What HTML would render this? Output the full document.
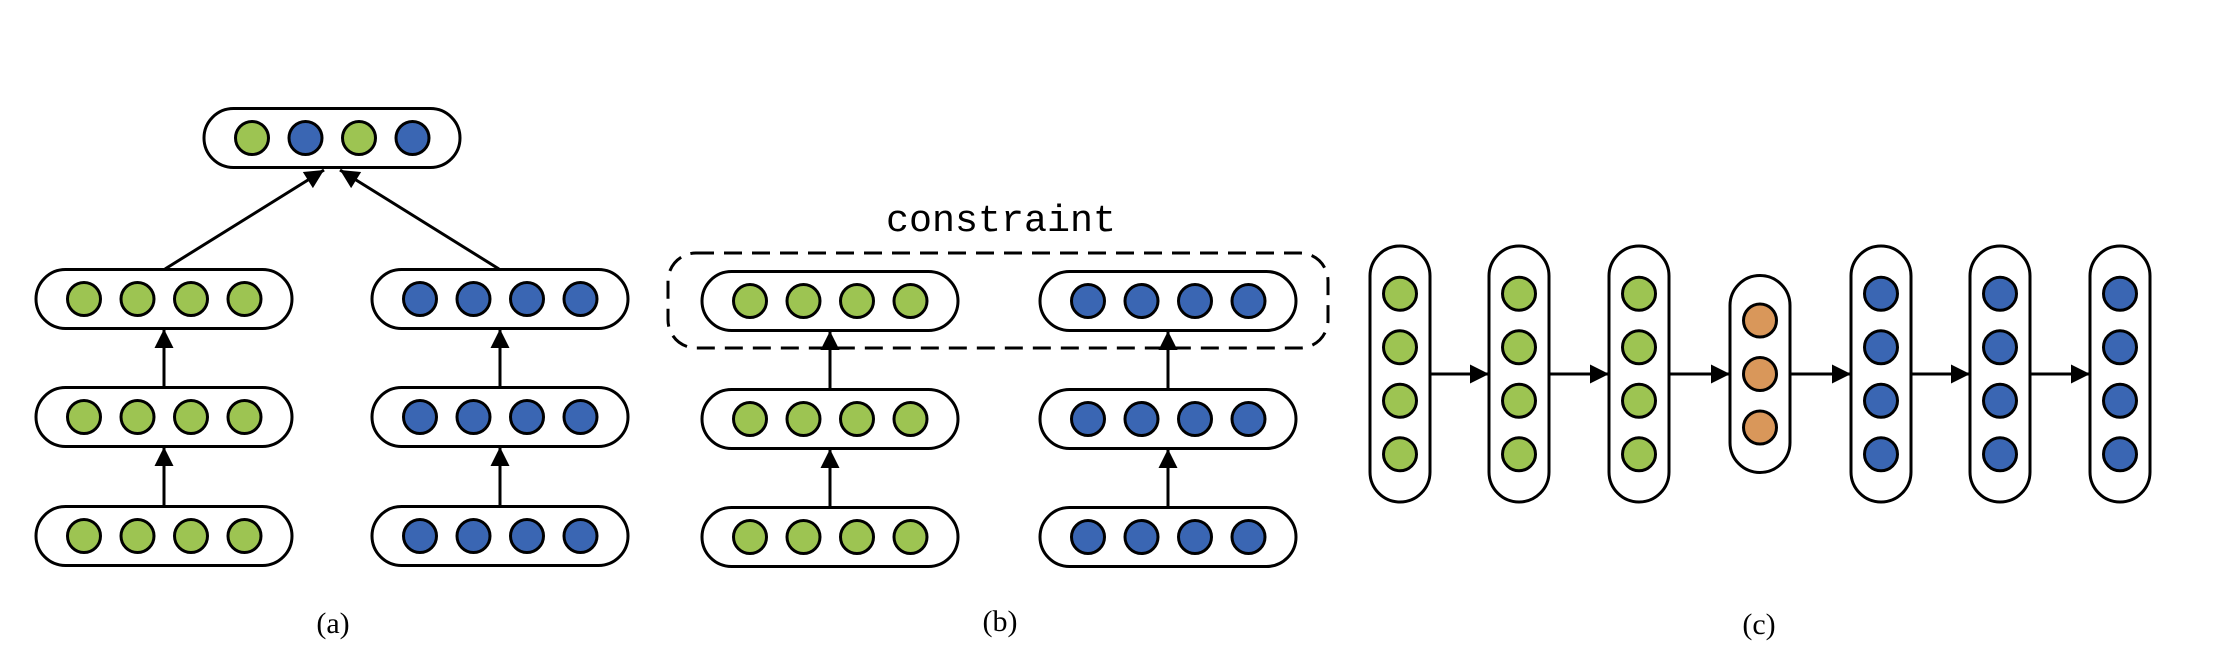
<!DOCTYPE html>
<html><head><meta charset="utf-8"><style>
html,body{margin:0;padding:0;background:#fff;}
svg{display:block;}
</style></head><body>
<svg id="fig" width="2232" height="672" viewBox="0 0 2232 672" xmlns="http://www.w3.org/2000/svg">
<defs>
<marker id="ah" viewBox="0 0 10 10" refX="10" refY="5" markerWidth="21" markerHeight="19" markerUnits="userSpaceOnUse" orient="auto"><path d="M0,0 L10,5 L0,10 z" fill="#000"/></marker>
</defs>
<g id="layer"></g>
<rect x="668" y="253" width="660" height="95" rx="28" fill="none" stroke="#000" stroke-width="3" stroke-dasharray="18,10"/>
<text x="886" y="231" font-family="Liberation Mono, monospace" font-size="38" textLength="230" lengthAdjust="spacingAndGlyphs" fill="#000">constraint</text>
<text x="333" y="633" text-anchor="middle" font-family="Liberation Serif, serif" font-size="30" fill="#000">(a)</text>
<text x="1000" y="631" text-anchor="middle" font-family="Liberation Serif, serif" font-size="30" fill="#000">(b)</text>
<text x="1759" y="634" text-anchor="middle" font-family="Liberation Serif, serif" font-size="30" fill="#000">(c)</text>
</svg>
<script>
const G = '#9dc452', B = '#3a66b3', O = '#d9975a';
// horizontal pills: [centerX, centerY, colors]
const hPillX = [332, 164, 500, 830, 1168];
const hRowsY = [138, 299, 417, 536, 301, 419, 537];
const topColors = [G, B, G, B];
// vertical pills (c)
const vPillX = [1400, 1519, 1639, 1760, 1881, 2000, 2120];
const vPillKinds = ['g','g','g','o','b','b','b'];

const svg = document.getElementById('layer');
const NS = 'http://www.w3.org/2000/svg';
function mk(tag, attrs){const e=document.createElementNS(NS,tag);for(const k in attrs)e.setAttribute(k,attrs[k]);svg.appendChild(e);return e;}

function hPill(cx, cy, colors, name){
  const r = mk('rect',{x:cx-128,y:cy-29.5,width:256,height:59,rx:29.5,fill:'#fff',stroke:'#000','stroke-width':3});
  
  
  colors.forEach((c,i)=>{
    const e = mk('circle',{cx:cx-80+i*53.5,cy:cy,r:16.5,fill:c,stroke:'#000','stroke-width':3});
    
    
  });
}
function arrow(x1,y1,x2,y2,name){
  const l = mk('line',{x1,y1,x2,y2,stroke:'#000','stroke-width':3,'marker-end':'url(#ah)'});
  
  
}
const g4=[G,G,G,G], b4=[B,B,B,B];
// panel a
hPill(hPillX[0], hRowsY[0], topColors, 'a-top-layer');
hPill(hPillX[1], hRowsY[1], g4, 'a-green-layer-3');
hPill(hPillX[1], hRowsY[2], g4, 'a-green-layer-2');
hPill(hPillX[1], hRowsY[3], g4, 'a-green-layer-1');
hPill(hPillX[2], hRowsY[1], b4, 'a-blue-layer-3');
hPill(hPillX[2], hRowsY[2], b4, 'a-blue-layer-2');
hPill(hPillX[2], hRowsY[3], b4, 'a-blue-layer-1');
arrow(hPillX[1]+1, hRowsY[1]-30, 324, 170, 'a-arrow-green-merge');
arrow(hPillX[2]-1, hRowsY[1]-30, 340, 170, 'a-arrow-blue-merge');
[hPillX[1],hPillX[2]].forEach((x,k)=>{
  arrow(x, hRowsY[2]-30, x, hRowsY[1]+30, 'a-arrow-'+k+'-up-2');
  arrow(x, hRowsY[3]-30, x, hRowsY[2]+30, 'a-arrow-'+k+'-up-1');
});
// panel b
hPill(hPillX[3], hRowsY[4], g4, 'b-green-layer-3');
hPill(hPillX[3], hRowsY[5], g4, 'b-green-layer-2');
hPill(hPillX[3], hRowsY[6], g4, 'b-green-layer-1');
hPill(hPillX[4], hRowsY[4], b4, 'b-blue-layer-3');
hPill(hPillX[4], hRowsY[5], b4, 'b-blue-layer-2');
hPill(hPillX[4], hRowsY[6], b4, 'b-blue-layer-1');
[hPillX[3],hPillX[4]].forEach((x,k)=>{
  arrow(x, hRowsY[5]-30, x, hRowsY[4]+30, 'b-arrow-'+k+'-up-2');
  arrow(x, hRowsY[6]-30, x, hRowsY[5]+30, 'b-arrow-'+k+'-up-1');
});
// panel c
const cy0 = 374;
vPillX.forEach((x,i)=>{
  const kind = vPillKinds[i];
  const n = kind==='o'?3:4;
  const h = kind==='o'?197:256;
  const r = mk('rect',{x:x-30,y:cy0-h/2,width:60,height:h,rx:30,fill:'#fff',stroke:'#000','stroke-width':3});
  
  
  const col = kind==='g'?G:kind==='b'?B:O;
  for(let j=0;j<n;j++){
    const e = mk('circle',{cx:x,cy:cy0+(j-(n-1)/2)*53.5,r:16.5,fill:col,stroke:'#000','stroke-width':3});
    
    
  }
  if(i<vPillX.length-1){
    arrow(x+30, cy0, vPillX[i+1]-30, cy0, 'c-arrow-'+(i+1));
  }
});
</script>
</body></html>
